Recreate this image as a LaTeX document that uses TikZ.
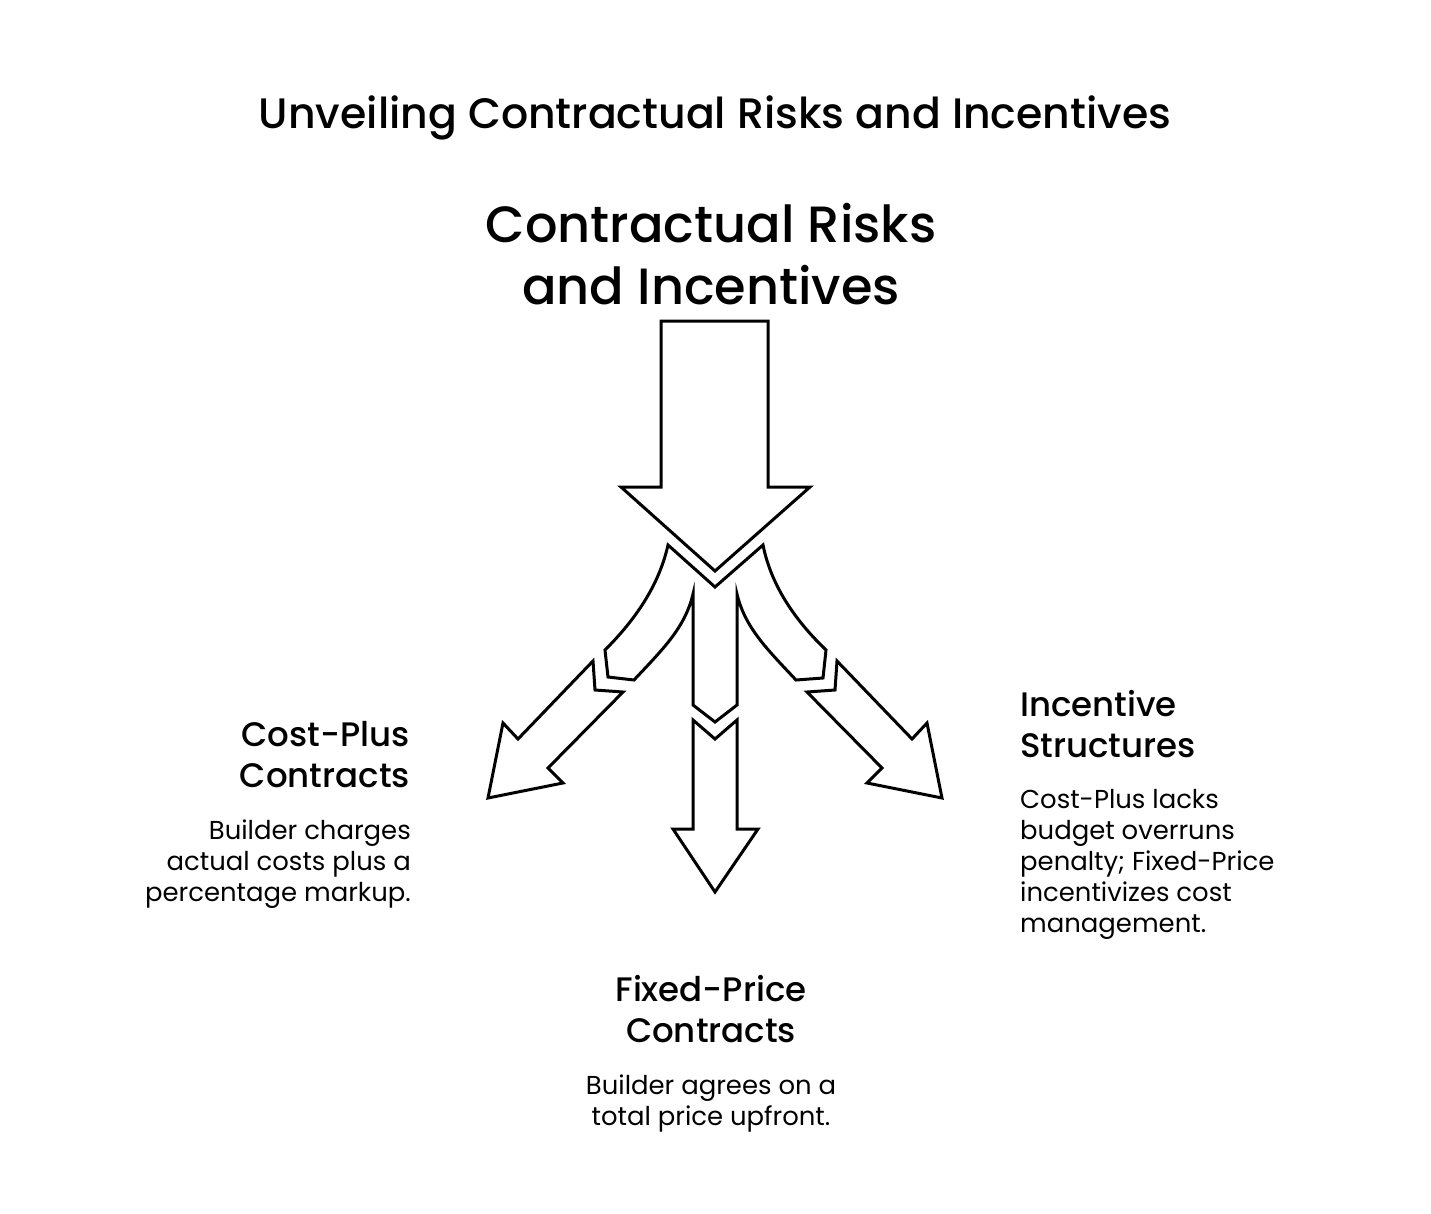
\documentclass[tikz,border=0pt]{standalone}
\usepackage{fontspec}
\setmainfont{Poppins}
\newfontfamily\headfont{Poppins Medium}
\usetikzlibrary{positioning}

\begin{document}
\begin{tikzpicture}[
    x=1pt, y=-1pt,
    shp/.style={draw, fill=white, line width=3pt, line join=miter},
    ttl/.style={font=\headfont\fontsize{42.6}{52}\selectfont, inner sep=0pt},
    hub/.style={font=\headfont\fontsize{51}{62}\selectfont, align=center, inner sep=0pt},
    hd/.style={font=\headfont\fontsize{34}{41}\selectfont, inner sep=0pt},
    txt/.style={font=\fontsize{25.9}{31}\selectfont, inner sep=0pt},
]
\useasboundingbox[fill=white] (0,0) rectangle (1431,1213);

% ===== Title and hub label =====
\node[ttl] at (715,118) (title) {Unveiling Contractual Risks and Incentives};
\node[hub] at (711,254) (hub) {Contractual Risks\\and Incentives};

% ===== Main arrow =====
\draw[shp] (661,321) -- (768,321) -- (768,487) -- (810,487) -- (715,571)
    -- (621,487) -- (661,487) -- cycle;

% ===== Splitter =====
\draw[shp] (668,545) -- (715,587) -- (763,545)
    .. controls (772,590) and (800,625) .. (826,650) -- (823,678) -- (796,680)
    .. controls (768,650) and (745,628) .. (737,594) -- (737,705) -- (715,722)
    -- (693,705) -- (693,594)
    .. controls (685,628) and (662,650) .. (634,680) -- (608,677) -- (605,650)
    .. controls (630,625) and (658,590) .. (668,545) -- cycle;

% ===== Branch arrows =====
\draw[shp] (593,661) -- (595,690) -- (623,692) -- (548,768) -- (563,783)
    -- (488,798) -- (503,723) -- (518,739) -- cycle;
\draw[shp] (837,661) -- (835,690) -- (807,692) -- (882,768) -- (867,783)
    -- (942,798) -- (927,723) -- (912,739) -- cycle;
\draw[shp] (693,720) -- (715,739) -- (737,720) -- (737,829) -- (758,829)
    -- (715,892) -- (673,829) -- (693,829) -- cycle;

% ===== Cost-Plus =====
\node[hd, align=right, anchor=east] at (410,755) (cph) {Cost-Plus\\Contracts};
\node[txt, align=right, anchor=east] at (411,864) (cpt)
     {Builder charges\\actual costs plus a\\percentage markup.};

% ===== Fixed-Price =====
\node[hd, align=center] at (711,1009) (fph) {Fixed-Price\\Contracts};
\node[txt, align=center] at (711,1103) (fpt)
     {Builder agrees on a\\total price upfront.};

% ===== Incentive Structures =====
\node[hd, align=left, anchor=west] at (1020,724) (ish) {Incentive\\Structures};
\node[txt, align=left, anchor=west] at (1020,864) (ist)
     {Cost-Plus lacks\\budget overruns\\penalty; Fixed-Price\\incentivizes cost\\management.};

\end{tikzpicture}
\end{document}
